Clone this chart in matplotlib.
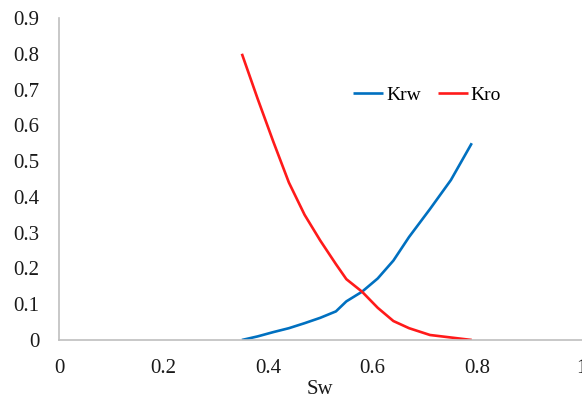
import matplotlib
matplotlib.use("Agg")
import matplotlib.pyplot as plt

plt.rcParams['font.family'] = ['Liberation Serif', 'DejaVu Serif']

# Relative permeability table
sw = [0.35, 0.38, 0.41, 0.44, 0.47, 0.50, 0.53, 0.55, 0.58, 0.61, 0.64, 0.67, 0.71, 0.75, 0.79]
krw = [0.0, 0.010, 0.022, 0.033, 0.047, 0.062, 0.080, 0.108, 0.135, 0.172, 0.222, 0.288, 0.366, 0.447, 0.55]
kro = [0.80, 0.675, 0.555, 0.44, 0.35, 0.278, 0.212, 0.17, 0.135, 0.09, 0.053, 0.033, 0.014, 0.007, 0.0]

x_ticks = [0, 0.2, 0.4, 0.6, 0.8, 1]
x_tick_labels = ['0', '0.2', '0.4', '0.6', '0.8', '1']
y_ticks = [0, 0.1, 0.2, 0.3, 0.4, 0.5, 0.6, 0.7, 0.8, 0.9]
y_tick_labels = ['0', '0.1', '0.2', '0.3', '0.4', '0.5', '0.6', '0.7', '0.8', '0.9']

W, H = 582, 400
fig = plt.figure(figsize=(W / 100, H / 100), dpi=100)
ax = fig.add_axes([59 / W, (H - 340) / H, 522.5 / W, 322 / H])

ax.plot(sw, krw, color='#0070C0', lw=1.9, label='Krw', solid_capstyle='butt',
        solid_joinstyle='round')
ax.plot(sw, kro, color='#FF1A1A', lw=1.9, label='Kro', solid_capstyle='butt',
        solid_joinstyle='round')

ax.set_xlim(0, 1)
ax.set_ylim(0, 0.9)
ax.set_xticks(x_ticks)
ax.set_xticklabels(x_tick_labels)
ax.set_yticks(y_ticks)
ax.set_yticklabels(y_tick_labels)
ax.tick_params(axis='both', length=0, labelsize=15, colors='#1a1a1a')
ax.tick_params(axis='y', pad=14)
ax.tick_params(axis='x', pad=14)

for side in ('top', 'right'):
    ax.spines[side].set_visible(False)
for side in ('left', 'bottom'):
    ax.spines[side].set_color('#bfbfbf')
    ax.spines[side].set_linewidth(1.2)

ax.set_xlabel('Sw', fontsize=15, color='#1a1a1a', labelpad=1)

ax.legend(loc='center left', bbox_to_anchor=(0.563, 0.761), ncol=2,
          frameon=False, fontsize=14, borderpad=0, borderaxespad=0,
          handlelength=1.55, handletextpad=0.15, columnspacing=0.85)

fig.savefig('out.png', dpi=100)
